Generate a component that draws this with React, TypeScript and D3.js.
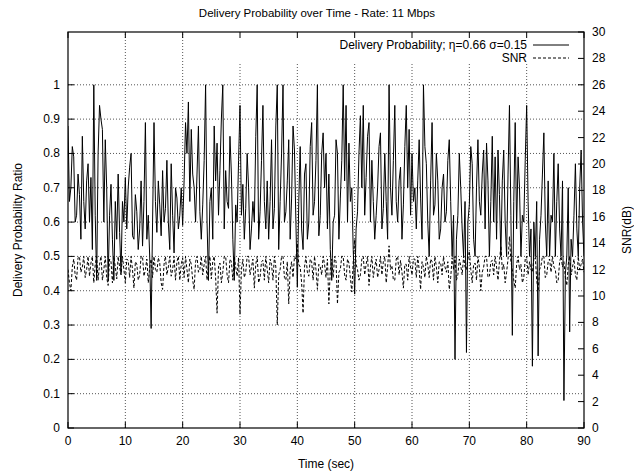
import React from "react";
import * as d3 from "d3";

const title = "Delivery Probability over Time - Rate: 11 Mbps";
const legendLabels = ["Delivery Probability; η=0.66 σ=0.15", "SNR"];
const xTicks = [0, 10, 20, 30, 40, 50, 60, 70, 80, 90];
const yLeftTicks = [0, 0.1, 0.2, 0.3, 0.4, 0.5, 0.6, 0.7, 0.8, 0.9, 1];
const yRightTicks = [0, 2, 4, 6, 8, 10, 12, 14, 16, 18, 20, 22, 24, 26, 28, 30];

const timeStart = 0;
const timeEnd = 90;

// Delivery probability, one value every 0.25 s from 0 to 90 s (rows of 5 s)
const delivery = [
  0.88, 0.66, 0.70, 0.82, 0.79, 0.60, 0.62, 0.74, 0.68, 0.55, 0.85, 0.66, 0.58, 0.72, 0.77, 0.60, 0.73, 0.52, 1.00, 0.62,
  0.43, 0.80, 0.94, 0.90, 0.87, 0.60, 0.84, 0.70, 0.43, 0.62, 0.71, 0.55, 0.43, 0.66, 0.55, 0.74, 0.57, 0.45, 0.66, 0.60,
  0.73, 0.58, 0.70, 0.76, 0.80, 0.56, 0.55, 0.68, 0.63, 0.52, 0.58, 0.72, 0.53, 0.66, 0.89, 0.55, 0.62, 0.50, 0.29, 0.60,
  0.89, 0.66, 0.57, 0.72, 0.65, 0.56, 0.75, 0.60, 0.64, 0.78, 0.60, 0.52, 0.77, 0.62, 0.51, 0.70, 0.67, 0.58, 0.62, 0.70,
  0.59, 0.72, 0.89, 0.80, 0.95, 0.66, 0.87, 0.74, 0.70, 0.60, 0.74, 0.88, 0.63, 0.55, 0.65, 0.78, 1.00, 0.60, 0.43, 0.66,
  0.70, 0.55, 0.88, 0.72, 0.83, 0.62, 0.75, 0.90, 1.00, 0.58, 0.75, 0.66, 0.64, 0.85, 0.74, 0.55, 0.43, 0.65, 0.60, 0.78,
  0.94, 0.62, 0.71, 0.55, 0.64, 0.80, 0.70, 0.52, 0.58, 0.66, 0.60, 0.85, 1.00, 0.55, 0.63, 0.78, 0.94, 0.66, 0.58, 0.72,
  0.55, 0.66, 0.84, 0.58, 0.64, 0.88, 1.00, 0.52, 0.66, 0.80, 1.00, 0.60, 0.63, 0.72, 0.84, 0.55, 0.67, 0.88, 0.81, 0.60,
  0.41, 0.66, 0.82, 0.58, 0.52, 0.74, 0.77, 0.55, 0.60, 0.82, 0.89, 0.62, 0.66, 0.78, 1.00, 0.56, 0.62, 0.80, 0.86, 0.70,
  0.80, 0.58, 0.74, 0.52, 0.43, 0.60, 0.62, 0.84, 0.80, 0.55, 0.67, 0.78, 1.00, 0.72, 0.94, 0.60, 0.83, 0.66, 0.70, 0.52,
  0.39, 0.58, 0.63, 0.80, 0.91, 0.70, 0.94, 0.62, 0.73, 0.85, 0.89, 0.60, 0.78, 0.66, 0.55, 0.62, 0.70, 0.82, 0.86, 0.58,
  0.64, 0.80, 0.66, 0.55, 1.00, 0.70, 0.62, 0.78, 0.94, 0.66, 0.60, 0.72, 0.76, 0.55, 0.65, 0.82, 0.94, 0.70, 0.87, 0.62,
  0.80, 0.66, 0.70, 0.58, 0.72, 0.84, 0.67, 0.55, 1.00, 0.82, 0.77, 0.60, 0.50, 0.72, 0.89, 0.62, 0.65, 0.80, 0.72, 0.55,
  0.58, 0.70, 0.74, 0.60, 0.63, 0.78, 0.84, 0.66, 0.50, 0.62, 0.20, 0.55, 0.62, 0.80, 0.70, 0.58, 0.50, 0.66, 0.22, 0.60,
  0.65, 0.82, 0.77, 0.55, 0.50, 0.70, 0.84, 0.66, 0.62, 0.74, 0.81, 0.58, 0.83, 0.72, 0.50, 0.66, 0.85, 0.60, 0.79, 0.55,
  0.81, 0.68, 0.50, 0.72, 0.81, 0.60, 0.50, 0.74, 0.94, 0.62, 0.27, 0.66, 0.89, 0.58, 0.79, 0.70, 0.50, 0.62, 0.60, 0.78,
  0.94, 0.66, 0.50, 0.58, 0.18, 0.60, 0.50, 0.66, 0.21, 0.55, 0.62, 0.74, 0.86, 0.60, 0.50, 0.72, 0.50, 0.62, 0.60, 0.80,
  0.50, 0.66, 0.77, 0.58, 0.50, 0.72, 0.08, 0.45, 0.50, 0.70, 0.28, 0.55, 0.50, 0.62, 0.77, 0.58, 0.50, 0.70, 0.81, 0.60,
  0.50,
];

// SNR in dB, one value every 0.25 s from 0 to 90 s (rows of 5 s)
const snr = [
  12.0, 11.0, 10.4, 12.2, 12.8, 11.6, 11.2, 12.9, 13.0, 11.8, 12.2, 13.0, 11.4, 12.0, 13.0, 11.5, 12.5, 13.0, 11.0, 12.4,
  13.0, 11.2, 12.4, 13.0, 11.2, 12.0, 13.0, 11.4, 10.8, 12.8, 12.6, 11.0, 13.0, 12.2, 11.3, 13.0, 12.2, 11.6, 13.0, 12.0,
  11.0, 12.8, 12.7, 11.4, 13.0, 12.0, 10.6, 12.6, 12.4, 11.2, 11.6, 13.0, 13.0, 11.5, 12.0, 12.8, 11.0, 12.2, 12.8, 11.4,
  13.0, 12.0, 11.8, 12.9, 12.5, 11.0, 10.5, 12.4, 13.0, 11.6, 12.2, 13.0, 11.5, 12.0, 13.0, 11.2, 12.6, 13.0, 11.2, 12.4,
  12.9, 11.4, 13.0, 12.0, 11.0, 12.8, 12.4, 11.2, 10.5, 12.6, 13.0, 11.8, 12.0, 13.0, 11.6, 12.4, 13.0, 11.2, 12.3, 13.0,
  11.3, 12.6, 13.0, 11.4, 8.7, 12.2, 12.5, 11.0, 11.8, 13.0, 13.0, 11.6, 11.0, 12.8, 12.6, 11.2, 13.0, 12.2, 11.5, 12.9,
  8.6, 12.0, 12.8, 11.4, 11.8, 13.0, 13.0, 11.6, 12.2, 12.8, 10.6, 12.4, 13.0, 11.0, 11.4, 12.6, 12.7, 11.2, 13.0, 12.0,
  11.0, 12.8, 12.4, 11.2, 13.0, 12.2, 7.8, 11.6, 12.0, 13.0, 13.0, 11.4, 11.2, 12.6, 9.4, 12.0, 12.6, 11.4, 13.0, 12.8,
  14.0, 12.4, 12.2, 11.0, 8.7, 12.2, 13.0, 11.8, 11.5, 12.8, 12.6, 11.2, 13.0, 12.0, 10.5, 12.4, 12.2, 11.6, 13.0, 12.4,
  11.4, 12.8, 9.4, 12.0, 12.8, 11.4, 13.0, 12.6, 9.4, 11.8, 12.0, 13.0, 13.0, 11.6, 11.2, 12.8, 12.5, 11.4, 10.3, 12.6,
  14.3, 12.4, 12.0, 11.2, 11.6, 12.8, 13.0, 11.6, 12.4, 13.0, 10.8, 12.2, 13.0, 11.4, 12.2, 12.8, 11.4, 12.0, 13.0, 11.6,
  12.6, 13.0, 11.0, 12.2, 13.8, 12.0, 12.3, 11.2, 11.2, 12.8, 13.0, 11.6, 12.7, 11.8, 10.6, 12.4, 12.4, 11.2, 13.0, 12.2,
  11.6, 12.8, 12.8, 11.4, 13.0, 12.0, 10.5, 12.6, 12.2, 11.4, 13.0, 12.4, 11.4, 12.8, 12.6, 11.2, 13.0, 12.2, 11.0, 12.6,
  12.5, 11.6, 13.0, 12.2, 11.8, 12.6, 10.5, 11.4, 12.9, 12.0, 13.0, 11.2, 11.6, 12.8, 12.3, 11.6, 13.0, 12.2, 12.0, 12.8,
  13.4, 12.0, 11.0, 12.4, 12.5, 11.2, 13.0, 12.2, 10.4, 11.8, 12.2, 13.0, 13.0, 11.4, 11.5, 12.6, 12.7, 11.6, 13.0, 12.2,
  11.2, 12.6, 13.8, 12.0, 12.4, 11.0, 11.8, 12.8, 14.5, 12.6, 12.0, 11.2, 10.6, 12.4, 13.0, 12.0, 12.4, 11.0, 11.4, 12.8,
  13.0, 11.6, 12.6, 12.0, 11.8, 12.8, 13.0, 11.2, 10.4, 12.0, 12.3, 13.0, 13.0, 11.4, 11.6, 12.6, 12.8, 11.8, 13.0, 12.2,
  12.0, 11.0, 11.2, 12.6, 13.0, 12.2, 12.6, 11.4, 10.8, 12.4, 13.0, 11.6, 12.2, 12.8, 11.6, 11.2, 13.0, 12.0, 12.4, 12.8,
  11.8,
];

const W = 634;
const H = 476;
const M = { left: 68, right: 584, top: 32, bottom: 428 };
const FONT = "'Liberation Sans', Arial, Helvetica, sans-serif";

export default function App() {
  const x = d3.scaleLinear().domain([0, 90]).range([M.left, M.right]);
  const yL = d3.scaleLinear().domain([0, 30 / 26]).range([M.bottom, M.top]);
  const yR = d3.scaleLinear().domain([0, 30]).range([M.bottom, M.top]);

  const tOf = (n: number) => (i: number) => timeStart + (i * (timeEnd - timeStart)) / (n - 1);
  const tD = tOf(delivery.length);
  const tS = tOf(snr.length);

  const solidPath = d3
    .line<number>()
    .x((_, i) => x(tD(i)))
    .y((v) => yL(v))(delivery) as string;
  const dashPath = d3
    .line<number>()
    .x((_, i) => x(tS(i)))
    .y((v) => yR(v))(snr) as string;

  const tickLen = 6;
  const legX1 = 533;
  const legX2 = 569;

  return (
    <svg
      width={W}
      height={H}
      style={{ position: "absolute", left: 0, top: 0, background: "#fff" }}
      fontFamily={FONT}
    >
      <rect x={0} y={0} width={W} height={H} fill="#fff" />
      {/* grid */}
      {yLeftTicks
        .filter((v) => v > 0)
        .map((v) => (
          <line
            key={"gy" + v}
            x1={M.left}
            x2={M.right}
            y1={yL(v)}
            y2={yL(v)}
            stroke="#555"
            strokeWidth={1}
            strokeDasharray="1,2"
          />
        ))}
      {xTicks
        .filter((v) => v > 0 && v < 90)
        .map((v) => (
          <line
            key={"gx" + v}
            x1={x(v)}
            x2={x(v)}
            y1={M.bottom}
            y2={M.top}
            stroke="#555"
            strokeWidth={1}
            strokeDasharray="1,2"
          />
        ))}
      {/* legend backdrop clears the grid */}
      <rect x={215} y={M.top + 1} width={M.right - 216} height={31} fill="#fff" />
      {/* data */}
      <defs>
        <clipPath id="plotclip">
          <rect x={M.left} y={M.top} width={M.right - M.left} height={M.bottom - M.top} />
        </clipPath>
      </defs>
      <g clipPath="url(#plotclip)">
        <path d={dashPath} fill="none" stroke="#000" strokeWidth={1} strokeDasharray="3,2" />
        <path d={solidPath} fill="none" stroke="#000" strokeWidth={1} />
      </g>
      {/* border */}
      <rect
        x={M.left}
        y={M.top}
        width={M.right - M.left}
        height={M.bottom - M.top}
        fill="none"
        stroke="#000"
        strokeWidth={1.2}
      />
      {/* x ticks */}
      {xTicks.map((v) => (
        <g key={"xt" + v}>
          <line x1={x(v)} x2={x(v)} y1={M.bottom} y2={M.bottom - tickLen} stroke="#000" />
          <line x1={x(v)} x2={x(v)} y1={M.top} y2={M.top + tickLen} stroke="#000" />
          <text x={x(v)} y={M.bottom + 17} textAnchor="middle" fontSize={12}>
            {v}
          </text>
        </g>
      ))}
      {/* left ticks */}
      {yLeftTicks.map((v) => (
        <g key={"yl" + v}>
          <line x1={M.left} x2={M.left + tickLen} y1={yL(v)} y2={yL(v)} stroke="#000" />
          <text x={M.left - 8} y={yL(v) + 4} textAnchor="end" fontSize={12}>
            {d3.format("~g")(v)}
          </text>
        </g>
      ))}
      {/* right ticks */}
      {yRightTicks.map((v) => (
        <g key={"yr" + v}>
          <line x1={M.right} x2={M.right - tickLen} y1={yR(v)} y2={yR(v)} stroke="#000" />
          <text x={M.right + 8} y={yR(v) + 4} textAnchor="start" fontSize={12}>
            {v}
          </text>
        </g>
      ))}
      {/* titles */}
      <text x={317} y={17} textAnchor="middle" fontSize={11.5}>
        {title}
      </text>
      <text x={326} y={468} textAnchor="middle" fontSize={12}>
        Time (sec)
      </text>
      <text
        transform={`translate(22, ${(M.top + M.bottom) / 2}) rotate(-90)`}
        textAnchor="middle"
        fontSize={12}
      >
        Delivery Probability Ratio
      </text>
      <text
        transform={`translate(631, ${(M.top + M.bottom) / 2}) rotate(-90)`}
        textAnchor="middle"
        fontSize={12}
      >
        SNR(dB)
      </text>
      {/* legend */}
      <text x={527} y={49} textAnchor="end" fontSize={12}>
        {legendLabels[0]}
      </text>
      <line x1={legX1} x2={legX2} y1={45} y2={45} stroke="#000" strokeWidth={1} />
      <text x={527} y={62} textAnchor="end" fontSize={12}>
        {legendLabels[1]}
      </text>
      <line
        x1={legX1}
        x2={legX2}
        y1={58}
        y2={58}
        stroke="#000"
        strokeWidth={1}
        strokeDasharray="3,2"
      />
    </svg>
  );
}
